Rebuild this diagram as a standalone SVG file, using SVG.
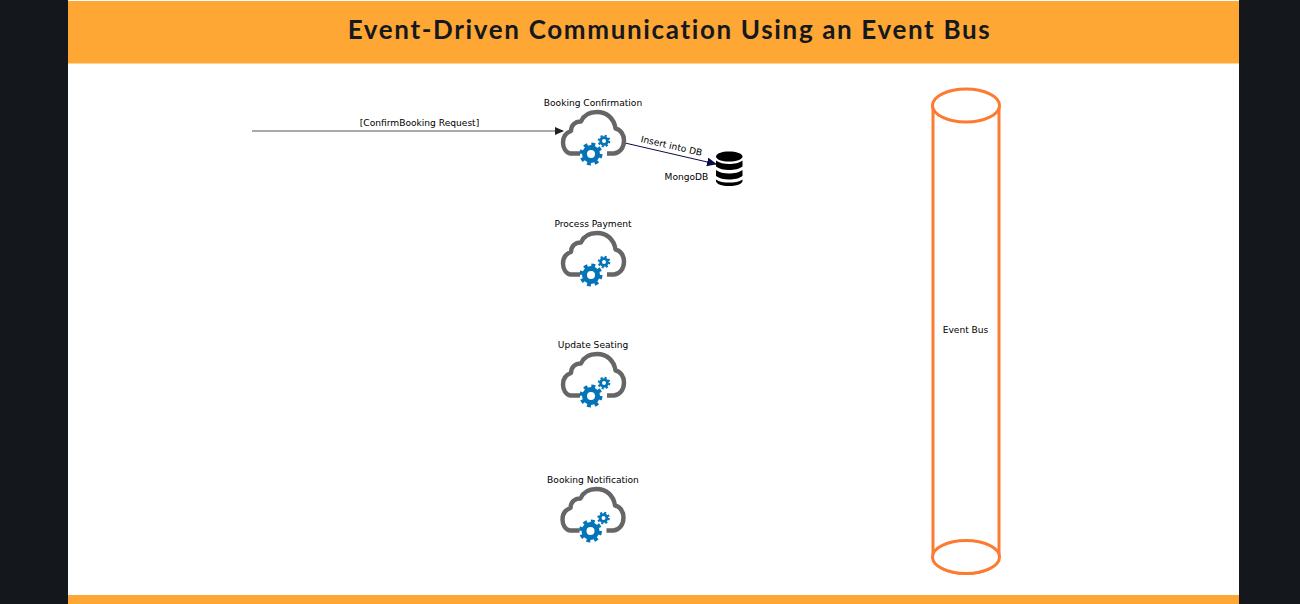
<svg xmlns="http://www.w3.org/2000/svg" xmlns:xlink="http://www.w3.org/1999/xlink" width="1300" height="604" viewBox="0 0 1300 604">
<style>
.lbl{font-family:"DejaVu Sans","Liberation Sans",sans-serif;font-size:9.1px;fill:#000;text-anchor:middle}
.title{font-family:Lato,"Liberation Sans",sans-serif;font-size:26px;font-weight:700;letter-spacing:1.65px;fill:#14181f;text-anchor:middle}
.cyl{fill:#fff;stroke:#fd7b30;stroke-width:3}
.cloud{fill:none;stroke:#666;stroke-width:4.4;stroke-linejoin:round;stroke-linecap:butt}
.g{fill:none;stroke:#0474b8}
.db{fill:#000}
</style>
<defs>
<marker id="a1" markerWidth="9" markerHeight="8" refX="8" refY="4" orient="auto" markerUnits="userSpaceOnUse"><path d="M0 0L9 4L0 8Z" fill="#222"/></marker>
<marker id="a2" markerWidth="10" markerHeight="9" refX="9" refY="4.5" orient="auto" markerUnits="userSpaceOnUse"><path d="M0 0L10 4.5L0 9Z" fill="#0b0b4a"/></marker>
<g id="svc">
<path class="cloud" d="M17 41.500H7.500C3 41 0 36 0 30.500C0 24.500 3.500 20.500 8 19C8 13 12.500 9 18 9.500C20.500 3.500 26.500 0 34 0C44 0 51 6.500 52.500 16.500C57.500 17.500 61 22.500 61 28.500C61 36 56.500 41 51 41.500H44"/>
<g transform="translate(28 42)"><circle class="g" r="6.500" stroke-width="5"/><circle class="g" r="9.800" stroke-width="3.400" stroke-dasharray="3.900 3.800"/></g>
<g transform="translate(41 29)"><circle class="g" r="3.400" stroke-width="2.800"/><circle class="g" r="5.300" stroke-width="2" stroke-dasharray="2.100 2.060"/></g>
</g>
</defs>
<rect width="1300" height="604" fill="#14181d"/>
<rect x="68" y="0" width="1171" height="604" fill="#fff"/>
<rect x="68" y="1" width="1171" height="62.500" fill="#ffa734"/>
<rect x="68" y="595" width="1171" height="9" fill="#ffa734"/>
<text class="title" x="669.500" y="39">Event-Driven Communication Using an Event Bus</text>
<g id="connectors">
<path d="M252 131H563" stroke="#555" stroke-width="1" fill="none" marker-end="url(#a1)"/>
<path d="M625 143L716 164" stroke="#0b0b4a" stroke-width="1" fill="none" marker-end="url(#a2)"/>
<text class="lbl" x="419.500" y="126">[ConfirmBooking Request]</text>
<text class="lbl" x="671.500" y="149" transform="rotate(13 671.500 146)">Insert into DB</text>
</g>
<g id="node-booking-confirmation"><use href="#svc" xlink:href="#svc" x="563" y="112"/><text class="lbl" x="593" y="106">Booking Confirmation</text></g>
<g id="node-process-payment"><use href="#svc" xlink:href="#svc" x="563" y="233"/><text class="lbl" x="593" y="227">Process Payment</text></g>
<g id="node-update-seating"><use href="#svc" xlink:href="#svc" x="563" y="354"/><text class="lbl" x="593" y="348">Update Seating</text></g>
<g id="node-booking-notification"><use href="#svc" xlink:href="#svc" x="562.500" y="489"/><text class="lbl" x="593" y="483">Booking Notification</text></g>
<g id="node-mongodb">
<path class="db" d="M716 156.500C716 153.500 722 151.500 729 151.500C736 151.500 742.500 153.500 742.500 156.500C742.500 159.500 736 161.500 729 161.500C722 161.500 716 159.500 716 156.500Z"/>
<path class="db" d="M716 160.500C719 163 724 164 729 164C734 164 739.500 163 742.500 160.500V166.500C739.500 169 734 170 729 170C724 170 719 169 716 166.500Z"/>
<path class="db" d="M716 170C719 172.500 724 173.500 729 173.500C734 173.500 739.500 172.500 742.500 170V176C739.500 178.500 734 179.500 729 179.500C724 179.500 719 178.500 716 176Z"/>
<path class="db" d="M716 179.500C719 182 724 182.500 729 182.500C734 182.500 739.500 182 742.500 179.500V181C742.500 184 736 186 729 186C722 186 716 184 716 181Z"/>
<text class="lbl" x="686.500" y="180">MongoDB</text>
</g>
<g id="node-event-bus">
<path class="cyl" d="M933 106V557C933 566 948 573.500 966 573.500C984 573.500 999 566 999 557V106"/>
<ellipse class="cyl" cx="966" cy="105.500" rx="33.500" ry="16.500"/>
<ellipse class="cyl" cx="966" cy="557" rx="33.500" ry="16.500"/>
<text class="lbl" x="965.500" y="333">Event Bus</text>
</g>
</svg>
